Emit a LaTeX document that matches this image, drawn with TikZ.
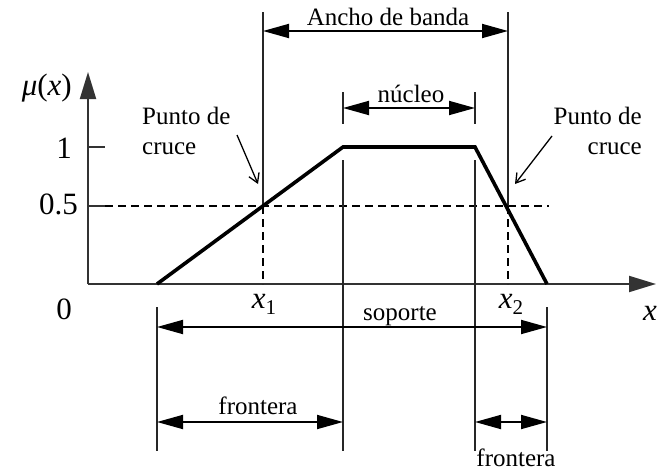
\documentclass[tikz,border=0pt]{standalone}
\usepackage{fontspec}
\setmainfont{Liberation Serif}
\usetikzlibrary{arrows.meta}
\begin{document}
\begin{tikzpicture}[x=1pt,y=-1pt,
  every node/.style={inner sep=0pt,font=\fontsize{25}{30}\selectfont},
  mathlab/.style={font=\fontsize{31}{34}\selectfont},
  axis/.style={line width=2pt,draw=black!80},
  fuzzy/.style={line width=3.6pt,line join=miter},
  guide/.style={line width=1.8pt,draw=black!85},
  dashguide/.style={line width=1.3pt,dash pattern=on 8pt off 5pt},
  dim/.style={line width=1.8pt,{Triangle[length=26pt,width=14pt]}-{Triangle[length=26pt,width=14pt]}},
  pointer/.style={line width=1.3pt,-{Straight Barb[length=9pt,width=11pt]}}]
\useasboundingbox (0,0) rectangle (659,471);
% key points
\coordinate (O) at (88,284);
\coordinate (ytop) at (88,72);
\coordinate (xend) at (656,284);
\coordinate (A) at (157,284);
\coordinate (B) at (343,147);
\coordinate (C) at (475,147);
\coordinate (D) at (547,284);
\coordinate (P1) at (263,206);
\coordinate (P2) at (508,206);
% axes
\draw[axis,-{Triangle[length=27pt,width=16pt]}] (O) -- (xend);
\draw[axis,-{Triangle[length=27pt,width=16pt]}] (O) -- (ytop);
\coordinate (t1) at (105,147);
\coordinate (t1a) at (88,147);
\coordinate (t5) at (105,206);
\coordinate (t5a) at (88,206);
\draw[axis] (t1a) -- (t1);
\draw[axis] (t5a) -- (t5);
% dashed 0.5 line
\coordinate (hd) at (549,206);
\draw[dashguide] (t5) -- (hd);
% guide verticals
\coordinate (x1top) at (263,12);
\coordinate (x1bot) at (263,284);
\coordinate (x2top) at (508,12);
\coordinate (x2bot) at (508,284);
\draw[guide] (x1top) -- (P1);
\draw[dashguide] (P1) -- (x1bot);
\draw[guide] (x2top) -- (P2);
\draw[dashguide] (P2) -- (x2bot);
% nucleus verticals
\coordinate (n1a) at (343,92); \coordinate (n1b) at (343,124);
\coordinate (n1c) at (343,160); \coordinate (n1d) at (343,451);
\coordinate (n2a) at (475,92); \coordinate (n2b) at (475,124);
\coordinate (n2c) at (475,160); \coordinate (n2d) at (475,451);
\draw[guide] (n1a) -- (n1b);
\draw[guide] (n1c) -- (n1d);
\draw[guide] (n2a) -- (n2b);
\draw[guide] (n2c) -- (n2d);
% support verticals
\coordinate (s1a) at (157,307); \coordinate (s1b) at (157,451);
\coordinate (s2a) at (547,307); \coordinate (s2b) at (547,451);
\draw[guide] (s1a) -- (s1b);
\draw[guide] (s2a) -- (s2b);
% membership function
\draw[fuzzy] (A) -- (B) -- (C) -- (D);
% dimension arrows
\coordinate (ab1) at (263,31); \coordinate (ab2) at (508,31);
\draw[dim] (ab1) -- (ab2);
\coordinate (nu1) at (343,108); \coordinate (nu2) at (475,108);
\draw[dim] (nu1) -- (nu2);
\coordinate (so1) at (157,327); \coordinate (so2) at (547,327);
\draw[dim] (so1) -- (so2);
\coordinate (fl1) at (157,422); \coordinate (fl2) at (343,422);
\draw[dim] (fl1) -- (fl2);
\coordinate (fr1) at (475,422); \coordinate (fr2) at (547,422);
\draw[dim] (fr1) -- (fr2);
% labels
\node[anchor=base] (ancho) at (388,25) {Ancho de banda};
\node[anchor=base] (nucleo) at (411,102) {núcleo};
\node[anchor=base] (soporte) at (400,320) {soporte};
\node[anchor=base] (front1) at (258,414) {frontera};
\node[anchor=base] (front2) at (516,466) {frontera};
\node[anchor=base west] (pc1a) at (142,124) {Punto de};
\node[anchor=base west] (pc1b) at (142,154) {cruce};
\node[anchor=base east] (pc2a) at (642,124) {Punto de};
\node[anchor=base east] (pc2b) at (642,154) {cruce};
\coordinate (ar1s) at (237,135); \coordinate (ar1e) at (258,184);
\draw[pointer] (ar1s) -- (ar1e);
\coordinate (ar2s) at (552,136); \coordinate (ar2e) at (515,184);
\draw[pointer] (ar2s) -- (ar2e);
\node[mathlab,anchor=base east] (mu) at (72,95) {\textit{μ}(\textit{x})};
\node[mathlab,anchor=base east] (one) at (72,158) {1};
\node[mathlab,anchor=base east] (half) at (78,214) {0.5};
\node[mathlab,anchor=base] (zero) at (64,319) {0};
\node[mathlab,anchor=base] (xa) at (264,308) {\textit{x}\raisebox{-6pt}{\fontsize{21}{21}\selectfont 1}};
\node[mathlab,anchor=base] (xb) at (511,308) {\textit{x}\raisebox{-6pt}{\fontsize{21}{21}\selectfont 2}};
\node[mathlab,anchor=base] (xlab) at (650,320) {\textit{x}};
\end{tikzpicture}
\end{document}
